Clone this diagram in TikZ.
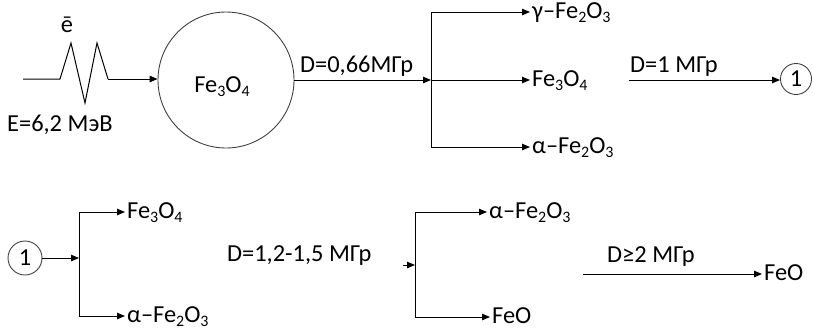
\documentclass[tikz,border=0pt]{standalone}
\usepackage{fontspec}
\setmainfont{Carlito}
\usetikzlibrary{arrows.meta}
\newcommand\chs[1]{\raisebox{-4bp}{\fontsize{16}{16}\selectfont #1}}
\begin{document}
\begin{tikzpicture}[x=1bp,y=-1bp,
  txt/.style={font=\fontsize{24.5}{28}\selectfont, inner sep=0bp},
  lab/.style={txt, anchor=west, inner xsep=2bp, inner ysep=0bp, text height=16bp, text depth=4bp},
  arr/.style={-{Triangle[length=8bp,width=6.5bp]}, line width=1bp},
  ln/.style={line width=1bp},
  ring/.style={circle, draw=black!75, line width=0.9bp, inner sep=0bp}]
\useasboundingbox (0,0) rectangle (813,329);

% ---- top row ----
\node[txt, anchor=base] (e) at (67,32) {ē};
\node[txt, anchor=base west] (E) at (7,131) {E=6,2 МэВ};
\coordinate (z0) at (23,79);
\coordinate (z1) at (108,79);
\draw[ln, line join=miter] (z0) -- (60,79) -- (71,43) -- (85,103) -- (97,43) -- (z1);
\node[ring, minimum size=136bp] (fe) at (226,80) {};
\node[txt, anchor=base] (fetext) at (222,92) {Fe\chs{3}O\chs{4}};
\draw[arr] (z1) -- (fe.west |- z1);

\coordinate (j1) at (431,80);
\coordinate (j1t) at (431,12);
\coordinate (j1b) at (431,147);
\draw[arr] (fe.east) -- (j1);
\node[txt, anchor=base west] (d1) at (300,72) {D=0,66МГр};
\draw[ln] (j1t) -- (j1b);
\node[lab] (g1) at (530,12) {γ–Fe\chs{2}O\chs{3}};
\node[lab] (m1) at (530,80) {Fe\chs{3}O\chs{4}};
\node[lab] (a1) at (530,147) {α–Fe\chs{2}O\chs{3}};
\draw[arr] (j1t) -- (g1.west);
\draw[arr] (j1) -- (m1.west);
\draw[arr] (j1b) -- (a1.west);

\coordinate (s1) at (629,80);
\node[ring, minimum size=31bp, txt] (c1) at (796,79) {1};
\draw[arr] (s1) -- (c1.west |- s1);
\node[txt, anchor=base west] (d2) at (630,72) {D=1 МГр};

% ---- bottom row ----
\node[ring, minimum size=34bp, txt] (c2) at (25,258) {1};
\coordinate (j2) at (79,258);
\coordinate (j2t) at (79,212);
\coordinate (j2b) at (79,316);
\draw[arr] (c2.east) -- (j2);
\draw[ln] (j2t) -- (j2b);
\node[lab] (m2) at (125,212) {Fe\chs{3}O\chs{4}};
\node[lab] (a2) at (125,316) {α–Fe\chs{2}O\chs{3}};
\draw[arr] (j2t) -- (m2.west);
\draw[arr] (j2b) -- (a2.west);

\node[txt, anchor=base west] (d3) at (227,261) {D=1,2-1,5 МГр};
\coordinate (s3) at (403,265);
\coordinate (j3) at (415,265);
\coordinate (j3t) at (415,212);
\coordinate (j3b) at (415,317);
\draw[arr] (s3) -- (j3);
\draw[ln] (j3t) -- (j3b);
\node[lab] (a3) at (487,212) {α–Fe\chs{2}O\chs{3}};
\node[lab] (f3) at (490,317) {FeO};
\draw[arr] (j3t) -- (a3.west);
\draw[arr] (j3b) -- (f3.west);

\node[txt, anchor=base west] (d4) at (607,262) {D≥2 МГр};
\coordinate (s4) at (583,274);
\node[lab] (f4) at (762,274) {FeO};
\draw[arr] (s4) -- (f4.west);
\end{tikzpicture}
\end{document}
